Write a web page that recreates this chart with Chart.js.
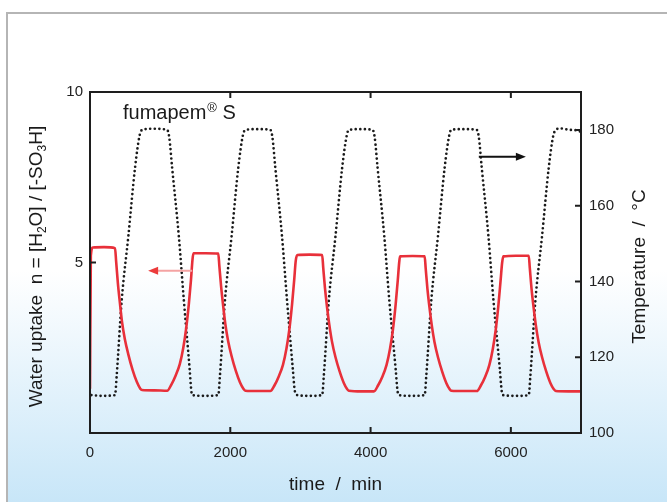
<!DOCTYPE html>
<html>
<head>
<meta charset="utf-8">
<script src="https://cdn.jsdelivr.net/npm/chart.js@4.4.1/dist/chart.umd.min.js"></script>
<style>
    html, body { margin: 0; padding: 0; background: #ffffff; }
    #wrap { width: 667px; height: 502px; }
</style>
</head>
<body>
<div id="wrap"><canvas id="chart" width="667" height="502"></canvas></div>
<script>
// temperature (dotted, right axis)
const tempTime = [
    20, 180, 357, 380, 452, 547, 642, 707, 743, 900,
    1100, 1130, 1171, 1266, 1338, 1420, 1445, 1460, 1650,
    1829, 1852, 1924, 2019, 2114, 2179, 2215, 2400,
    2571, 2601, 2642, 2737, 2809, 2891, 2921, 2957, 3130,
    3310, 3333, 3405, 3500, 3595, 3660, 3690, 3860,
    4029, 4059, 4100, 4195, 4267, 4357, 4385, 4405, 4590,
    4771, 4794, 4866, 4961, 5056, 5121, 5150, 5330,
    5514, 5544, 5585, 5680, 5752, 5842, 5870, 5890, 6070,
    6255, 6278, 6350, 6445, 6540, 6605, 6643, 6700, 6850, 6985, 7000
];
const tempValue = [
    110, 109.8, 110, 115, 135, 152, 170, 178.5, 180, 180.3,
    180, 178, 170, 152, 135, 117, 111, 110, 109.8,
    110, 115, 135, 152, 170, 178.5, 180, 180.2,
    180, 178, 170, 152, 135, 117, 111, 110, 109.8,
    110, 115, 135, 152, 170, 178.5, 180, 180.2,
    180, 178, 170, 152, 135, 117, 111, 110, 109.8,
    110, 115, 135, 152, 170, 178.5, 180, 180.2,
    180, 178, 170, 152, 135, 117, 111, 110, 109.8,
    110, 115, 135, 152, 170, 178.5, 180, 180.4, 180, 179.6, 178.5
];

// water uptake n (solid red, left axis)
const waterTime = [
    0, 12, 40, 200, 357,
    372, 397, 427, 457, 497, 547, 607, 667, 717, 742, 920, 1100,
    1160, 1220, 1280, 1330, 1370, 1410, 1440, 1462, 1475, 1650, 1829,
    1844, 1869, 1899, 1929, 1969, 2019, 2079, 2139, 2189, 2214, 2400, 2571,
    2631, 2691, 2751, 2801, 2841, 2881, 2911, 2933, 2957, 3130, 3310,
    3325, 3350, 3380, 3410, 3450, 3500, 3560, 3620, 3665, 3690, 3870, 4048,
    4108, 4168, 4228, 4278, 4318, 4358, 4388, 4408, 4420, 4600, 4771,
    4786, 4811, 4841, 4871, 4911, 4961, 5021, 5081, 5126, 5150, 5330, 5514,
    5574, 5634, 5694, 5744, 5784, 5824, 5854, 5876, 5893, 6070, 6255,
    6270, 6295, 6325, 6355, 6395, 6445, 6505, 6565, 6610, 6640, 6820, 7000
];
const waterValue = [
    1.3, 5.2, 5.44, 5.45, 5.42,
    5.05, 4.4, 3.8, 3.25, 2.75, 2.3, 1.85, 1.5, 1.3, 1.26, 1.25, 1.24,
    1.42, 1.68, 2.02, 2.5, 3.05, 3.8, 4.5, 5.1, 5.27, 5.27, 5.26,
    4.9, 4.3, 3.72, 3.2, 2.7, 2.25, 1.82, 1.48, 1.29, 1.24, 1.23, 1.23,
    1.4, 1.66, 2.0, 2.48, 3.02, 3.78, 4.48, 5.05, 5.22, 5.23, 5.22,
    4.85, 4.25, 3.68, 3.2, 2.68, 2.22, 1.8, 1.46, 1.29, 1.24, 1.22, 1.22,
    1.4, 1.65, 2.0, 2.48, 3.02, 3.78, 4.48, 5.0, 5.18, 5.19, 5.18,
    4.82, 4.22, 3.66, 3.18, 2.67, 2.22, 1.8, 1.46, 1.29, 1.24, 1.23, 1.23,
    1.4, 1.65, 2.0, 2.48, 3.02, 3.78, 4.48, 5.0, 5.18, 5.2, 5.2,
    4.84, 4.23, 3.67, 3.18, 2.67, 2.22, 1.8, 1.46, 1.29, 1.23, 1.22, 1.22
];

// axis ranges / ticks
const timeRange = [0, 7000];
const timeTicks = [0, 2000, 4000, 6000];
const waterRange = [0, 10];
const waterTicks = [5, 10];
const tempRange = [100, 190];
const tempTicks = [100, 120, 140, 160, 180];

// arrows: [fromX, toX, y] in data units
const waterArrow = [1457, 829, 4.76];
const tempArrow = [5543, 6214, 172.9];

const FONT = "'Liberation Sans', Arial, sans-serif";
const AXIS = "#1e1e1e";

function zip(xs, ys) {
    return xs.map((x, i) => ({ x: x, y: ys[i] }));
}

function drawRich(ctx, parts, size) {
    let total = 0;
    parts.forEach(p => {
        ctx.font = (p.sub || p.sup ? Math.round(size * 0.62) : size) + "px " + FONT;
        p.w = ctx.measureText(p.t).width;
        total += p.w;
    });
    let x = -total / 2;
    parts.forEach(p => {
        ctx.font = (p.sub || p.sup ? Math.round(size * 0.62) : size) + "px " + FONT;
        const dy = p.sub ? size * 0.28 : (p.sup ? -size * 0.36 : 0);
        ctx.fillText(p.t, x, dy);
        x += p.w;
    });
    return total;
}

const backdrop = {
    id: "backdrop",
    beforeDraw(chart) {
        const { ctx, width, height } = chart;
        ctx.save();
        ctx.fillStyle = "#ffffff";
        ctx.fillRect(0, 0, width, height);
        const g = ctx.createLinearGradient(0, 270, 0, height);
        g.addColorStop(0, "#ffffff");
        g.addColorStop(1, "#c8e6f8");
        ctx.fillStyle = g;
        ctx.fillRect(7, 13, width - 7, height - 13);
        ctx.strokeStyle = "#b5b5b5";
        ctx.lineWidth = 2;
        ctx.beginPath();
        ctx.moveTo(7, height);
        ctx.lineTo(7, 13);
        ctx.lineTo(width, 13);
        ctx.stroke();
        ctx.restore();
    }
};

const decorations = {
    id: "decorations",
    afterDatasetsDraw(chart) {
        const { ctx, chartArea: a, scales } = chart;
        ctx.save();

        // arrows
        function arrow(x1, x2, y, scaleY, shaft, head) {
            const px1 = scales.x.getPixelForValue(x1);
            const px2 = scales.x.getPixelForValue(x2);
            const py = scales[scaleY].getPixelForValue(y);
            const dir = Math.sign(px2 - px1);
            ctx.strokeStyle = shaft;
            ctx.lineWidth = 2;
            ctx.beginPath();
            ctx.moveTo(px1, py);
            ctx.lineTo(px2 - dir * 8, py);
            ctx.stroke();
            ctx.fillStyle = head;
            ctx.beginPath();
            ctx.moveTo(px2, py);
            ctx.lineTo(px2 - dir * 10, py - 4);
            ctx.lineTo(px2 - dir * 10, py + 4);
            ctx.closePath();
            ctx.fill();
        }
        arrow(waterArrow[0], waterArrow[1], waterArrow[2], "y", "#f4a3a3", "#ec3b3b");
        arrow(tempArrow[0], tempArrow[1], tempArrow[2], "y2", "#111111", "#111111");

        // frame
        ctx.strokeStyle = AXIS;
        ctx.lineWidth = 2;
        ctx.strokeRect(a.left, a.top, a.right - a.left, a.bottom - a.top);

        // inward tick marks
        ctx.beginPath();
        timeTicks.forEach(v => {
            if (v <= timeRange[0] || v >= timeRange[1]) return;
            const px = scales.x.getPixelForValue(v);
            ctx.moveTo(px, a.bottom);
            ctx.lineTo(px, a.bottom - 6);
            ctx.moveTo(px, a.top);
            ctx.lineTo(px, a.top + 6);
        });
        waterTicks.forEach(v => {
            if (v <= waterRange[0] || v >= waterRange[1]) return;
            const py = scales.y.getPixelForValue(v);
            ctx.moveTo(a.left, py);
            ctx.lineTo(a.left + 6, py);
        });
        tempTicks.forEach(v => {
            if (v <= tempRange[0] || v >= tempRange[1]) return;
            const py = scales.y2.getPixelForValue(v);
            ctx.moveTo(a.right, py);
            ctx.lineTo(a.right - 6, py);
        });
        ctx.stroke();

        // in-plot label
        ctx.fillStyle = "#1a1a1a";
        ctx.textBaseline = "alphabetic";
        ctx.textAlign = "left";
        ctx.font = "20px " + FONT;
        let x = a.left + 33;
        const y = a.top + 27;
        ctx.fillText("fumapem", x, y);
        x += ctx.measureText("fumapem").width + 1;
        ctx.font = "13px " + FONT;
        ctx.fillText("®", x, y - 7);
        x += ctx.measureText("®").width;
        ctx.font = "20px " + FONT;
        ctx.fillText(" S", x, y);

        // y axis titles
        const midY = (a.top + a.bottom) / 2;
        ctx.fillStyle = "#1a1a1a";
        ctx.textBaseline = "middle";
        ctx.save();
        ctx.translate(37, midY + 4);
        ctx.rotate(-Math.PI / 2);
        drawRich(ctx, [
            { t: "Water uptake  n = [H" },
            { t: "2", sub: true },
            { t: "O] / [-SO" },
            { t: "3", sub: true },
            { t: "H]" }
        ], 19);
        ctx.restore();

        ctx.save();
        ctx.translate(640, midY + 4);
        ctx.rotate(-Math.PI / 2);
        drawRich(ctx, [{ t: "Temperature  /  °C" }], 19);
        ctx.restore();

        ctx.restore();
    }
};

new Chart(document.getElementById("chart"), {
    type: "line",
    data: {
        datasets: [{
            label: "Temperature",
            data: zip(tempTime, tempValue),
            yAxisID: "y2",
            borderColor: "#1a1a1a",
            borderWidth: 2.7,
            borderDash: [0, 4.6],
            borderCapStyle: "round",
            pointRadius: 0,
            cubicInterpolationMode: "monotone",
            order: 2
        }, {
            label: "Water uptake",
            data: zip(waterTime, waterValue),
            yAxisID: "y",
            borderColor: "#e8303a",
            borderWidth: 2.6,
            pointRadius: 0,
            cubicInterpolationMode: "monotone",
            order: 1
        }]
    },
    options: {
        responsive: false,
        animation: false,
        devicePixelRatio: 1,
        layout: { padding: { top: 92, left: 0, right: 0, bottom: 0 } },
        plugins: {
            legend: { display: false },
            tooltip: { enabled: false }
        },
        scales: {
            x: {
                type: "linear",
                position: "bottom",
                min: timeRange[0],
                max: timeRange[1],
                afterFit(scale) { scale.height = 69; },
                afterBuildTicks(scale) { scale.ticks = timeTicks.map(v => ({ value: v })); },
                grid: { display: false, drawTicks: false },
                border: { display: false },
                ticks: {
                    padding: 11,
                    maxRotation: 0,
                    color: "#222222",
                    font: { family: FONT, size: 15 },
                    callback(value) { return String(value); }
                },
                title: {
                    display: true,
                    text: "time  /  min",
                    color: "#1a1a1a",
                    font: { family: FONT, size: 19 },
                    padding: { top: 0, bottom: 6 }
                }
            },
            y: {
                position: "left",
                min: waterRange[0],
                max: waterRange[1],
                afterFit(scale) { scale.width = 90; },
                afterBuildTicks(scale) { scale.ticks = waterTicks.map(v => ({ value: v })); },
                grid: { display: false, drawTicks: false },
                border: { display: false },
                ticks: {
                    padding: 7,
                    color: "#222222",
                    font: { family: FONT, size: 15 },
                    callback(value) { return String(value); }
                }
            },
            y2: {
                position: "right",
                min: tempRange[0],
                max: tempRange[1],
                afterFit(scale) { scale.width = 86; },
                afterBuildTicks(scale) { scale.ticks = tempTicks.map(v => ({ value: v })); },
                grid: { display: false, drawTicks: false },
                border: { display: false },
                ticks: {
                    padding: 8,
                    color: "#222222",
                    font: { family: FONT, size: 15 },
                    callback(value) { return String(value); }
                }
            }
        }
    },
    plugins: [backdrop, decorations]
});
</script>
</body>
</html>
